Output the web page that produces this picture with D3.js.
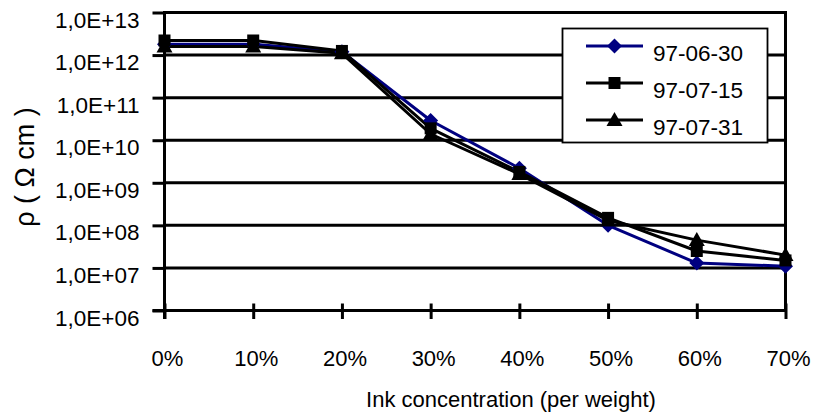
<!DOCTYPE html>
<html>
<head>
<meta charset="utf-8">
<script src="https://cdn.jsdelivr.net/npm/d3@7"></script>
<style>
  html, body { margin: 0; padding: 0; background: #fff; }
  svg { display: block; font-family: "Liberation Sans", Arial, sans-serif; }
</style>
</head>
<body>
<svg id="chart" width="815" height="419"></svg>
<script>
// Ink concentration categories (per weight)
const categories = ["0%", "10%", "20%", "30%", "40%", "50%", "60%", "70%"];

// Resistivity, ρ (Ω cm), per measurement date
const series0630 = [1.8e12, 1.8e12, 1.2e12, 2.9e10, 2.2e9, 1.0e8, 1.3e7, 1.1e7];
const series0715 = [2.2e12, 2.2e12, 1.25e12, 1.9e10, 1.8e9, 1.5e8, 2.5e7, 1.5e7];
const series0731 = [1.6e12, 1.6e12, 1.1e12, 1.4e10, 1.6e9, 1.3e8, 4.5e7, 2.0e7];

const seriesNames = ["97-06-30", "97-07-15", "97-07-31"];

// Decade tick values for the logarithmic axis
const yTicks = [1e6, 1e7, 1e8, 1e9, 1e10, 1e11, 1e12, 1e13];

const seriesList = [
  { name: seriesNames[0], values: series0630, color: "#000080", symbol: "diamond" },
  { name: seriesNames[1], values: series0715, color: "#000000", symbol: "square" },
  { name: seriesNames[2], values: series0731, color: "#000000", symbol: "triangle" }
];

const svg = d3.select("#chart");
const plotLeft = 164.5, plotRight = 785.5, plotTop = 12.5, plotBottom = 310.5;

const x = d3.scalePoint().domain(categories).range([plotLeft, plotRight]).padding(0);
const y = d3.scaleLog().domain([1e6, 1e13]).range([plotBottom, plotTop]);

const fmtExp = v => {
  const e = Math.round(Math.log10(v));
  return "1,0E+" + String(e).padStart(2, "0");
};

// Horizontal gridlines at each decade
svg.append("g")
  .selectAll("line")
  .data(yTicks.slice(1))
  .join("line")
  .attr("x1", plotLeft).attr("x2", plotRight)
  .attr("y1", d => y(d)).attr("y2", d => y(d))
  .attr("stroke", "#000").attr("stroke-width", 3);

// Right border of the plot area
svg.append("line")
  .attr("x1", plotRight).attr("x2", plotRight)
  .attr("y1", plotTop - 1.5).attr("y2", plotBottom)
  .attr("stroke", "#000").attr("stroke-width", 3);

// Y axis
const yAxis = svg.append("g")
  .attr("transform", `translate(${plotLeft},0)`)
  .call(d3.axisLeft(y).tickValues(yTicks).tickFormat(fmtExp).tickSize(12).tickPadding(0));
yAxis.select(".domain").attr("stroke-width", 3).attr("d", `M0,${plotTop - 1.5}V${plotBottom + 8.5}`);
yAxis.selectAll(".tick line").attr("stroke-width", 3);
yAxis.selectAll(".tick text")
  .attr("x", -25).attr("dy", null).attr("y", 14.5)
  .attr("font-size", 22.5).attr("fill", "#000")
  .attr("font-family", "Liberation Sans, Arial, sans-serif");

// X axis with crossing tick marks
const xAxis = svg.append("g")
  .attr("transform", `translate(0,${plotBottom})`)
  .call(d3.axisBottom(x).tickSize(8.5).tickPadding(0));
xAxis.select(".domain").attr("stroke-width", 3).attr("d", `M${plotLeft - 12},0H${plotRight + 1.5}`);
xAxis.selectAll(".tick line").attr("y1", -7).attr("stroke-width", 3);
xAxis.selectAll(".tick text")
  .attr("x", 2.5).attr("y", 55.5).attr("dy", null)
  .attr("font-size", 22).attr("fill", "#000")
  .attr("font-family", "Liberation Sans, Arial, sans-serif");

// Marker shapes
function markerPath(symbol, cx, cy) {
  if (symbol === "diamond") {
    return `M${cx},${cy - 7.5}L${cx + 7.5},${cy}L${cx},${cy + 7.5}L${cx - 7.5},${cy}Z`;
  } else if (symbol === "square") {
    return `M${cx - 6},${cy - 6}H${cx + 6}V${cy + 6}H${cx - 6}Z`;
  } else {
    return `M${cx},${cy - 8}L${cx + 8},${cy + 6}L${cx - 8},${cy + 6}Z`;
  }
}

const line = d3.line()
  .x((d, i) => x(categories[i]))
  .y(d => y(d));

const plot = svg.append("g");
seriesList.forEach(s => {
  plot.append("path")
    .attr("d", line(s.values))
    .attr("fill", "none")
    .attr("stroke", s.color)
    .attr("stroke-width", 3)
    .attr("stroke-linejoin", "round");
});
seriesList.forEach(s => {
  plot.append("g")
    .selectAll("path")
    .data(s.values)
    .join("path")
    .attr("d", (d, i) => markerPath(s.symbol, x(categories[i]), y(d)))
    .attr("fill", s.color);
});

// Legend
const lg = svg.append("g");
lg.append("rect")
  .attr("x", 562.5).attr("y", 28.5).attr("width", 205).attr("height", 114)
  .attr("fill", "#fff").attr("stroke", "#000").attr("stroke-width", 1.8);
const rowY = [46, 83, 120];
seriesList.forEach((s, i) => {
  const ry = rowY[i];
  lg.append("line")
    .attr("x1", 586).attr("x2", 643).attr("y1", ry).attr("y2", ry)
    .attr("stroke", s.color).attr("stroke-width", 3);
  lg.append("path").attr("d", markerPath(s.symbol, 614.5, ry)).attr("fill", s.color);
  lg.append("text")
    .attr("x", 653).attr("y", ry + 14.5)
    .attr("font-size", 22.5).attr("fill", "#000")
    .text(s.name);
});

// Axis titles
svg.append("text")
  .attr("x", 511).attr("y", 407)
  .attr("text-anchor", "middle")
  .attr("font-size", 22).attr("fill", "#000")
  .text("Ink concentration (per weight)");

svg.append("text")
  .attr("transform", "translate(34,167) rotate(-90)")
  .attr("text-anchor", "middle")
  .attr("font-size", 27).attr("fill", "#000")
  .text("ρ ( Ω cm )");
</script>
</body>
</html>
